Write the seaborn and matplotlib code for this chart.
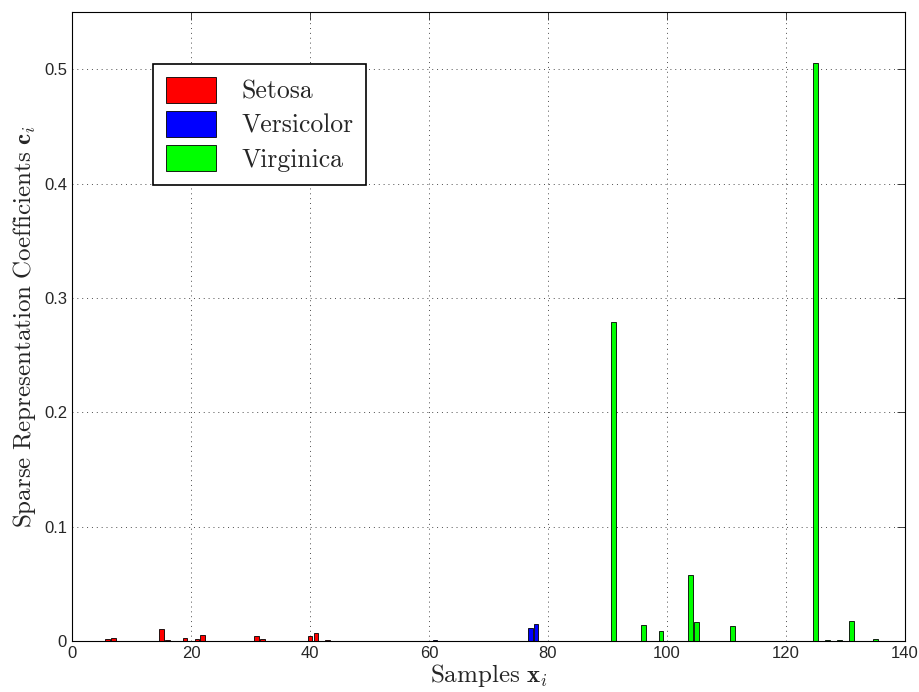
import numpy as np
import pandas as pd
import matplotlib
matplotlib.use("Agg")
import matplotlib.pyplot as plt
import seaborn as sns

# sparse coefficients (all other samples ~0)
nz_idx = [6, 7, 15, 16, 19, 21, 22, 31, 32, 40, 41, 43,
          61, 77, 78,
          91, 96, 99, 104, 105, 111, 125, 127, 129, 131, 135]
nz_val = [0.002, 0.003, 0.0108, 0.001, 0.0025, 0.002, 0.005, 0.004, 0.002, 0.004, 0.0073, 0.0012,
          0.0013, 0.0117, 0.0149,
          0.279, 0.0137, 0.0085, 0.058, 0.0166, 0.013, 0.505, 0.001, 0.0013, 0.0175, 0.0017]
class_names = ["Setosa", "Versicolor", "Virginica"]
class_colors = ["#ff0000", "#0000ff", "#00ff00"]
n_per_class = 45

samples = np.arange(1, 3 * n_per_class + 1)
coefs = np.zeros(len(samples))
for i, v in zip(nz_idx, nz_val):
    coefs[i - 1] = v
labels = [class_names[(s - 1) // n_per_class] for s in samples]
df = pd.DataFrame({"sample": samples, "coef": coefs, "cls": labels})

sns.set_style("white")
plt.rcParams["mathtext.fontset"] = "cm"
plt.rcParams["font.family"] = ["Liberation Sans", "DejaVu Sans"]

fig = plt.figure(figsize=(9.19, 6.92), dpi=100)
ax = fig.add_axes([0.0783, 0.0737, 0.9065, 0.909])

sns.barplot(data=df, x="sample", y="coef", hue="cls", native_scale=True,
            palette=dict(zip(class_names, class_colors)), dodge=False, saturation=1,
            width=0.8, edgecolor="black", linewidth=0.6, ax=ax)

ax.set_xlim(0, 140)
ax.set_ylim(0, 0.55)
ax.set_xticks(np.arange(0, 141, 20))
ax.set_yticks(np.arange(0, 0.51, 0.1))
ax.set_yticklabels(["0", "0.1", "0.2", "0.3", "0.4", "0.5"])
ax.grid(True, linestyle=(0, (1, 4)), color="black", linewidth=0.7, alpha=0.7)
ax.set_axisbelow(True)
ax.tick_params(direction="in", top=True, right=True, labelsize=12, length=6, width=0.6)
for sp in ax.spines.values():
    sp.set_linewidth(0.8)
    sp.set_color("black")

ax.set_xlabel(r"$\mathrm{Samples}\ \mathbf{x}_i$", fontsize=18, labelpad=1)
ax.set_ylabel(r"$\mathrm{Sparse\ Representation\ Coefficients}\ \mathbf{c}_i$", fontsize=18, labelpad=4)

leg = ax.legend(loc="upper left", bbox_to_anchor=(0.097, 0.917),
                prop={"family": "cmr10", "size": 18.5}, handlelength=1.95, handleheight=1.15,
                fancybox=False, edgecolor="black", framealpha=1, borderaxespad=0,
                borderpad=0.5, labelspacing=0.3, handletextpad=1.0)
leg.get_frame().set_linewidth(1.2)

fig.savefig("out.png", dpi=100)
